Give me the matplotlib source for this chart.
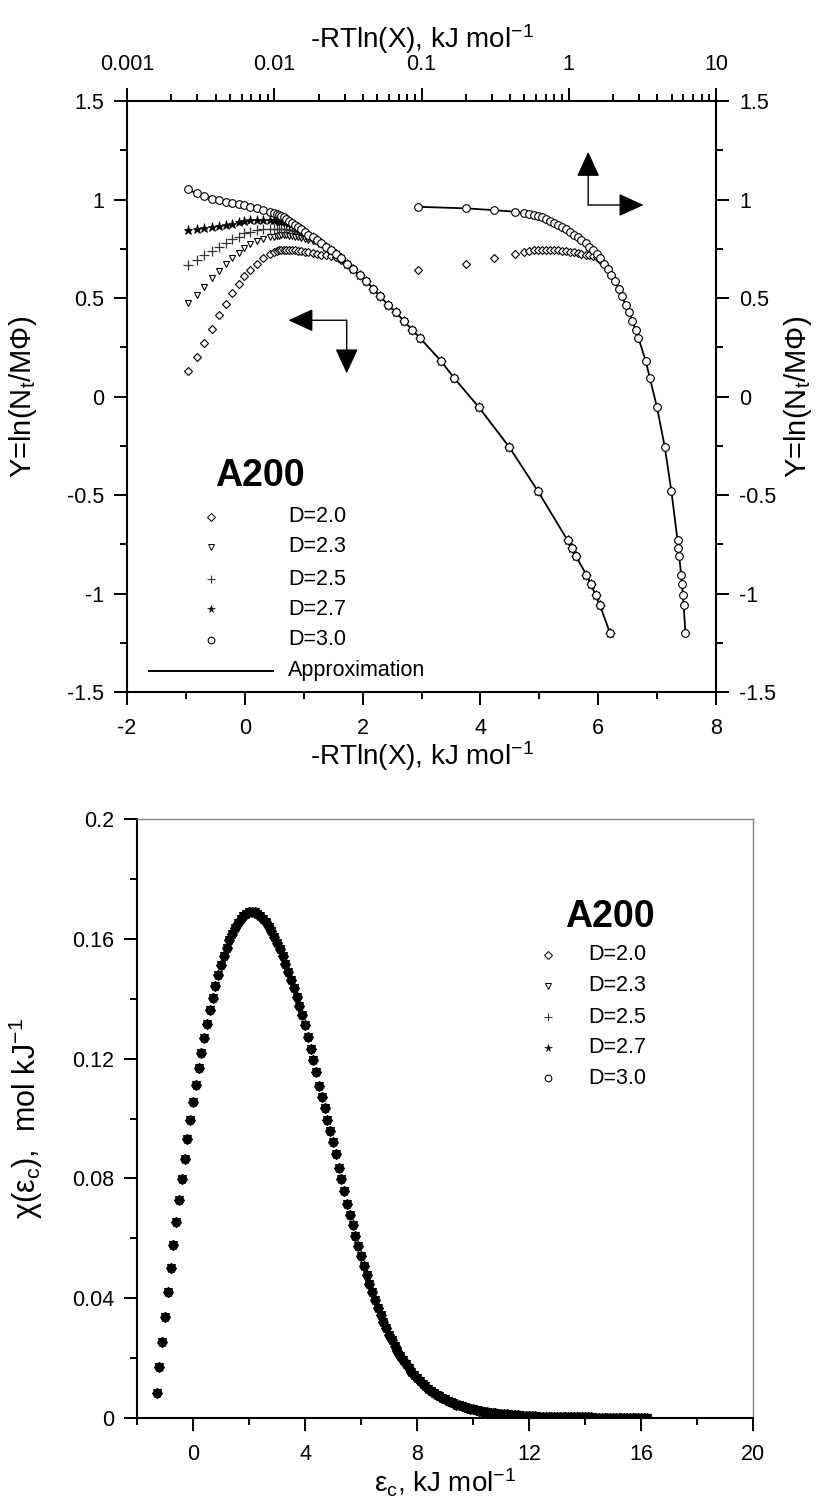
import matplotlib
matplotlib.use('Agg')
import matplotlib.pyplot as plt
from matplotlib import ticker

plt.rcParams['font.family'] = ['Liberation Sans', 'DejaVu Sans']
plt.rcParams['mathtext.default'] = 'regular'

# ---------------- top panel data: Y = ln(Nt/M*Phi) vs -RTln(X) ----------------
x_head = [-0.96, -0.82, -0.69, -0.56, -0.44, -0.32, -0.21, -0.10, -0.01, 0.095, 0.20, 0.31, 0.43]
x_dense = [0.50, 0.54, 0.58, 0.62, 0.66, 0.70, 0.75, 0.80, 0.85, 0.90, 0.96, 1.02, 1.08, 1.15,
           1.22, 1.30, 1.38, 1.46, 1.55, 1.64, 1.74, 1.84, 1.95, 2.06, 2.18, 2.30, 2.43, 2.56,
           2.70, 2.84, 2.97]
x_tail = [3.33, 3.55, 3.97, 4.49, 4.98, 5.48, 5.55, 5.62, 5.80, 5.87, 5.96, 6.03, 6.20]

y_tail = [0.181, 0.095, -0.053, -0.257, -0.482, -0.730, -0.770, -0.810, -0.905, -0.950,
          -1.010, -1.060, -1.200]

y_head_d30 = [1.051, 1.031, 1.017, 1.005, 0.997, 0.988, 0.982, 0.976, 0.970, 0.963, 0.955, 0.946, 0.938]
y_head_d27 = [0.845, 0.848, 0.853, 0.858, 0.865, 0.870, 0.878, 0.886, 0.890, 0.895, 0.895, 0.895, 0.895]
y_head_d25 = [0.667, 0.692, 0.718, 0.740, 0.760, 0.777, 0.797, 0.811, 0.828, 0.836, 0.845, 0.848, 0.848]
y_head_d23 = [0.475, 0.514, 0.557, 0.599, 0.638, 0.675, 0.701, 0.726, 0.752, 0.773, 0.790, 0.802, 0.810]
y_head_d20 = [0.130, 0.201, 0.274, 0.345, 0.415, 0.472, 0.523, 0.570, 0.611, 0.641, 0.672, 0.701, 0.723]

y_dense_d30 = [0.931, 0.926, 0.921, 0.916, 0.911, 0.902, 0.893, 0.883, 0.872, 0.860, 0.848, 0.835,
               0.822, 0.809, 0.795, 0.778, 0.761, 0.744, 0.723, 0.702, 0.672, 0.645, 0.615, 0.585,
               0.548, 0.508, 0.466, 0.430, 0.383, 0.340, 0.298]
y_dense_d27 = [0.895, 0.894, 0.893, 0.892, 0.890, 0.887, 0.883, 0.878, 0.870, 0.860] + y_dense_d30[10:]
y_dense_d25 = [0.849, 0.850, 0.850, 0.850, 0.849, 0.848, 0.846, 0.843, 0.840, 0.836, 0.830, 0.823,
               0.815, 0.806] + y_dense_d30[14:]
y_dense_d23 = [0.812, 0.815, 0.817, 0.818, 0.818, 0.818, 0.817, 0.815, 0.812, 0.809, 0.805, 0.800,
               0.795, 0.790, 0.784, 0.774, 0.759] + y_dense_d30[17:]
y_dense_d20 = [0.735, 0.740, 0.743, 0.745, 0.746, 0.746, 0.745, 0.744, 0.742, 0.740, 0.738, 0.735,
               0.732, 0.728, 0.724, 0.720, 0.716, 0.712, 0.708, 0.695] + y_dense_d30[20:]

labels = ['D=2.0', 'D=2.3', 'D=2.5', 'D=2.7', 'D=3.0']

# ---------------- bottom panel data: chi(eps_c), eps_c from -1.3 in steps of 0.1 ----------------
eps_start = -1.3
eps_step = 0.1
chi_vals = [
    0.0084, 0.0170, 0.0255, 0.0338, 0.0420, 0.0500, 0.0578, 0.0654, 0.0727, 0.0797,   # -1.3 .. -0.4
    0.0865, 0.0931, 0.0995, 0.1056, 0.1113, 0.1168, 0.1220, 0.1269, 0.1316, 0.1361,   # -0.3 .. 0.6
    0.1403, 0.1443, 0.1479, 0.1512, 0.1542, 0.1570, 0.1595, 0.1617, 0.1636, 0.1652,   # 0.7 .. 1.6
    0.1665, 0.1676, 0.1684, 0.1689, 0.1691, 0.1689, 0.1684, 0.1677, 0.1667, 0.1655,   # 1.7 .. 2.6
    0.1641, 0.1625, 0.1607, 0.1587, 0.1565, 0.1541, 0.1516, 0.1490, 0.1463, 0.1435,   # 2.7 .. 3.6
    0.1406, 0.1376, 0.1345, 0.1311, 0.1272, 0.1233, 0.1194, 0.1155, 0.1110, 0.1072,   # 3.7 .. 4.6
    0.1034, 0.0996, 0.0958, 0.0920, 0.0881, 0.0835, 0.0797, 0.0759, 0.0714, 0.0678,   # 4.7 .. 5.6
    0.0643, 0.0608, 0.0574, 0.0541, 0.0509, 0.0478, 0.0449, 0.0421, 0.0394, 0.0368,   # 5.7 .. 6.6
    0.0344, 0.0321, 0.0299, 0.0278, 0.0259, 0.0241, 0.0224, 0.0208, 0.0193, 0.0179,   # 6.7 .. 7.6
    0.0166, 0.0154, 0.0143, 0.0133, 0.0123, 0.0114, 0.0106, 0.0098, 0.0091, 0.0084,   # 7.7 .. 8.6
    0.0078, 0.0072, 0.0067, 0.0062, 0.0057, 0.0053, 0.0049, 0.0045, 0.0042, 0.0039,   # 8.7 .. 9.6
    0.0036, 0.0033, 0.0031, 0.0029, 0.0027, 0.0025, 0.0023, 0.0021, 0.0020, 0.0018,   # 9.7 .. 10.6
    0.0017, 0.0016, 0.0015, 0.0014, 0.0013, 0.0012, 0.0011, 0.0010, 0.0009, 0.0009,   # 10.7 .. 11.6
    0.0008, 0.0008, 0.0007, 0.0007, 0.0006, 0.0006, 0.0005, 0.0005, 0.0005, 0.0004,   # 11.7 .. 12.6
    0.0004, 0.0004, 0.0004, 0.0004, 0.0003, 0.0003, 0.0003, 0.0003, 0.0003, 0.0002,   # 12.7 .. 13.6
    0.0002, 0.0002, 0.0002, 0.0002, 0.0002, 0.0002, 0.0001, 0.0001, 0.0001, 0.0001,   # 13.7 .. 14.6
    0.0001, 0.0001, 0.0001, 0.0001, 0.0001, 0.0001, 0.0000, 0.0000, 0.0000, 0.0000,   # 14.7 .. 15.6
    0.0000, 0.0000, 0.0000, 0.0000, 0.0000, 0.0000,                                   # 15.7 .. 16.2
]
eps_vals = [round(eps_start + eps_step * i, 2) for i in range(len(chi_vals))]

# ---------------- styling ----------------
FIG_W, FIG_H = 817, 1496
fig = plt.figure(figsize=(FIG_W / 100, FIG_H / 100), dpi=100)

marker_styles = [
    dict(marker='D', ms=4.2, mfc='white', mec='black', mew=0.8),
    dict(marker='v', ms=5.0, mfc='white', mec='black', mew=0.8),
    dict(marker='+', ms=6.5, mfc='none', mec='#333333', mew=0.9),
    dict(marker='*', ms=6.5, mfc='black', mec='black', mew=0.5),
    dict(marker='o', ms=5.5, mfc='white', mec='black', mew=0.8),
]
leg_styles = [
    dict(marker='D', ms=3.8, mfc='white', mec='black', mew=0.7),
    dict(marker='v', ms=4.2, mfc='white', mec='black', mew=0.7),
    dict(marker='+', ms=5.5, mfc='none', mec='#333333', mew=0.8),
    dict(marker='*', ms=5.5, mfc='black', mec='black', mew=0.4),
    dict(marker='o', ms=4.8, mfc='white', mec='black', mew=0.8),
]

TICK_FS = 15.5
LABEL_FS = 20
YLABEL_FS = 21
LEG_FS = 15.5


def style_ticks(axis_obj):
    axis_obj.tick_params(which='major', length=9.5, width=1.4, labelsize=TICK_FS, direction='out')
    axis_obj.tick_params(which='minor', length=4.8, width=1.4, direction='out')


fmt_g = ticker.FuncFormatter(lambda v, p: f'{v:g}')

# ======================= TOP PANEL =======================
axT = fig.add_axes([127 / FIG_W, 1 - 692 / FIG_H, 589 / FIG_W, 591 / FIG_H])
series_top = [
    (y_head_d20, y_dense_d20),
    (y_head_d23, y_dense_d23),
    (y_head_d25, y_dense_d25),
    (y_head_d27, y_dense_d27),
    (y_head_d30, y_dense_d30),
]
x_all = x_head + x_dense + x_tail
for (yh, yd), st in zip(series_top, marker_styles):
    axT.plot(x_all, yh + yd + y_tail, ls='none', zorder=3, **st)
y_all_d30 = y_head_d30 + y_dense_d30 + y_tail
axT.plot(x_all, y_all_d30, color='black', lw=1.3, zorder=2)

axT.set_xlim(-2, 8)
axT.set_ylim(-1.5, 1.5)
axT.xaxis.set_major_locator(ticker.MultipleLocator(2))
axT.xaxis.set_minor_locator(ticker.MultipleLocator(1))
axT.yaxis.set_major_locator(ticker.MultipleLocator(0.5))
axT.yaxis.set_minor_locator(ticker.MultipleLocator(0.25))
axT.xaxis.set_major_formatter(fmt_g)
axT.yaxis.set_major_formatter(fmt_g)
style_ticks(axT)
axT.tick_params(axis='x', pad=9)
axT.tick_params(axis='y', pad=7)
for s in axT.spines.values():
    s.set_linewidth(1.5)
axT.set_xlabel('-RTln(X), kJ mol$^{-1}$', fontsize=LABEL_FS)
axT.xaxis.set_label_coords(0.5, -0.080)
axT.set_ylabel('Y=ln(N$_{t}$/MΦ)', fontsize=YLABEL_FS)
axT.yaxis.set_label_coords(-0.150, 0.5)

# log-scale twin (top x, right y): same data, positive abscissa only
axL = fig.add_axes(axT.get_position(), frameon=False)
axL.set_xscale('log')
axL.set_xlim(0.001, 10)
axL.set_ylim(-1.5, 1.5)
xr = [v for v in x_all if v > 0]
n_neg = len(x_all) - len(xr)
for idx in (0, 4):
    yh, yd = series_top[idx]
    axL.plot(xr, (yh + yd + y_tail)[n_neg:], ls='none', zorder=3, **marker_styles[idx])
axL.plot(xr, y_all_d30[n_neg:], color='black', lw=1.3, zorder=2)
axL.xaxis.tick_top()
axL.xaxis.set_label_position('top')
axL.yaxis.tick_right()
axL.yaxis.set_label_position('right')
axL.xaxis.set_major_locator(ticker.LogLocator(base=10, numticks=10))
axL.xaxis.set_minor_locator(ticker.LogLocator(base=10, subs=range(2, 10), numticks=10))
axL.xaxis.set_major_formatter(fmt_g)
axL.xaxis.set_minor_formatter(ticker.NullFormatter())
axL.yaxis.set_major_locator(ticker.MultipleLocator(0.5))
axL.yaxis.set_minor_locator(ticker.MultipleLocator(0.25))
axL.yaxis.set_major_formatter(fmt_g)
style_ticks(axL)
axL.tick_params(axis='x', pad=9)
axL.tick_params(axis='y', pad=7)
axL.set_xlabel('-RTln(X), kJ mol$^{-1}$', fontsize=LABEL_FS)
axL.xaxis.set_label_coords(0.5, 1.090)
axL.set_ylabel('Y=ln(N$_{t}$/MΦ)', fontsize=YLABEL_FS)
axL.yaxis.set_label_coords(1.112, 0.5)

# direction arrows
arrow_kw = dict(arrowstyle='-|>,head_length=1.2,head_width=0.55', color='black', lw=1.0,
                shrinkA=0, shrinkB=0, mutation_scale=13)
corner_L = (0.373, 0.629)
axT.annotate('', xy=(0.274, 0.629), xytext=corner_L, xycoords='axes fraction', arrowprops=arrow_kw)
axT.annotate('', xy=(0.373, 0.539), xytext=corner_L, xycoords='axes fraction', arrowprops=arrow_kw)
corner_R = (0.783, 0.824)
axT.annotate('', xy=(0.783, 0.914), xytext=corner_R, xycoords='axes fraction', arrowprops=arrow_kw)
axT.annotate('', xy=(0.877, 0.824), xytext=corner_R, xycoords='axes fraction', arrowprops=arrow_kw)

# legend (top)
axT.text(0.225, 0.366, 'A200', transform=axT.transAxes, fontsize=27, fontweight='bold',
         ha='center', va='center')
rows_top = [0.2966, 0.2459, 0.1912, 0.1399, 0.088]
for yy, lab, st in zip(rows_top, labels, leg_styles):
    axT.plot([0.142], [yy], transform=axT.transAxes, ls='none', clip_on=False, **st)
    axT.text(0.273, yy, lab, transform=axT.transAxes, fontsize=LEG_FS, va='center', ha='left')
axT.plot([0.038, 0.248], [0.036, 0.036], transform=axT.transAxes, color='black', lw=1.4)
axT.text(0.273, 0.036, 'Approximation', transform=axT.transAxes, fontsize=LEG_FS,
         va='center', ha='left')

# ======================= BOTTOM PANEL =======================
axB = fig.add_axes([137 / FIG_W, 1 - 1418 / FIG_H, 616 / FIG_W, 599 / FIG_H])
bottom_styles = [
    dict(marker='D', ms=4.6, mfc='black', mec='black', mew=0.8),
    dict(marker='v', ms=5.2, mfc='black', mec='black', mew=0.8),
    dict(marker='+', ms=6.2, mfc='none', mec='black', mew=1.0),
    dict(marker='*', ms=6.8, mfc='black', mec='black', mew=0.5),
    dict(marker='o', ms=6.0, mfc='black', mec='black', mew=0.8),
]
for st in bottom_styles:
    axB.plot(eps_vals, chi_vals, ls='none', zorder=3, **st)
axB.set_xlim(-2, 20)
axB.set_ylim(0, 0.2)
axB.xaxis.set_major_locator(ticker.FixedLocator([0, 4, 8, 12, 16, 20]))
axB.xaxis.set_minor_locator(ticker.MultipleLocator(2))
axB.yaxis.set_major_locator(ticker.MultipleLocator(0.04))
axB.yaxis.set_minor_locator(ticker.MultipleLocator(0.02))
axB.xaxis.set_major_formatter(fmt_g)
axB.yaxis.set_major_formatter(fmt_g)
style_ticks(axB)
axB.tick_params(axis='x', pad=9)
axB.tick_params(axis='y', pad=7)
for side in ('left', 'bottom'):
    axB.spines[side].set_linewidth(1.5)
for side in ('top', 'right'):
    axB.spines[side].set_linewidth(1.0)
    axB.spines[side].set_color('#888888')
axB.set_xlabel('ε$_{c}$, kJ mol$^{-1}$', fontsize=LABEL_FS)
axB.xaxis.set_label_coords(0.5, -0.081)
axB.set_ylabel('χ(ε$_{c}$),  mol kJ$^{-1}$', fontsize=22)
axB.yaxis.set_label_coords(-0.150, 0.5)

axB.text(0.6948, 0.836, 'A200', transform=axB.transAxes, fontsize=27, fontweight='bold',
         ha='left', va='center')
rows_bot = [0.773, 0.7217, 0.669, 0.618, 0.567]
for yy, lab, st in zip(rows_bot, labels, leg_styles):
    axB.plot([0.6667], [yy], transform=axB.transAxes, ls='none', clip_on=False, **st)
    axB.text(0.732, yy, lab, transform=axB.transAxes, fontsize=LEG_FS, va='center', ha='left')

fig.savefig('out.png', dpi=100)
